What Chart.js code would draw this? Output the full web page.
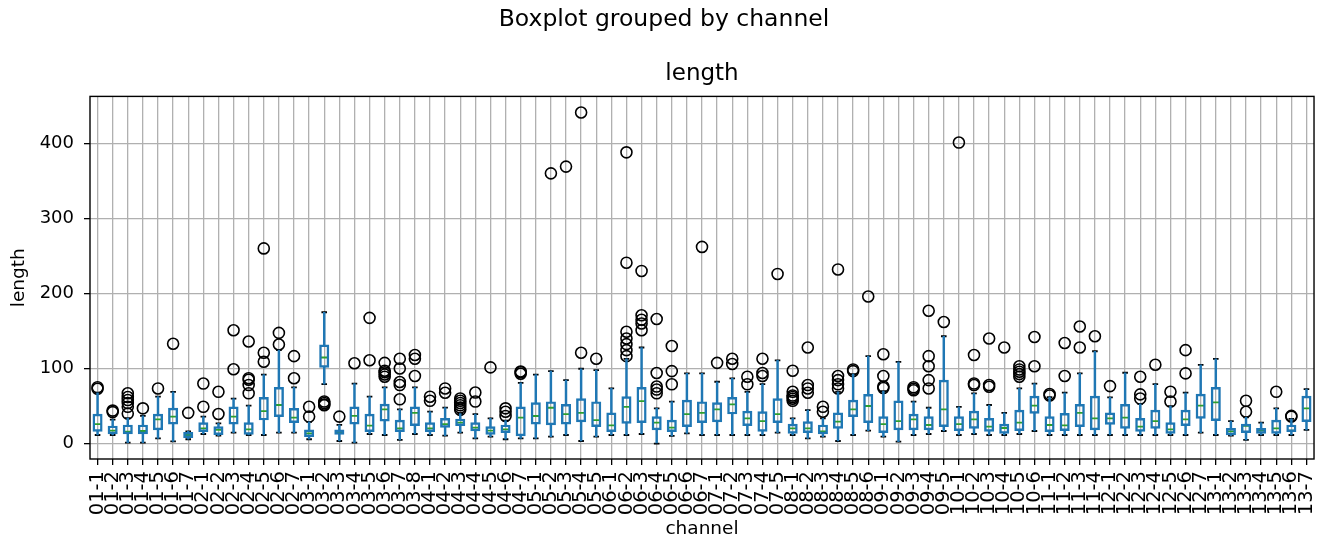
<!DOCTYPE html>
<html>
<head>
<meta charset="utf-8">
<script src="https://cdn.jsdelivr.net/npm/chart.js@4.4.0/dist/chart.umd.min.js"></script>
<style>
    html, body { margin: 0; padding: 0; background: #fff; }
</style>
</head>
<body>
<canvas id="grafico" width="1336" height="542"></canvas>
<script>
const canales = [
    "01-1", "01-2", "01-3", "01-4", "01-5", "01-6", "01-7",
    "02-1", "02-2", "02-3", "02-4", "02-5", "02-6", "02-7",
    "03-1", "03-2", "03-3", "03-4", "03-5", "03-6", "03-7", "03-8",
    "04-1", "04-2", "04-3", "04-4", "04-5", "04-6", "04-7",
    "05-1", "05-2", "05-3", "05-4", "05-5",
    "06-1", "06-2", "06-3", "06-4", "06-5", "06-6", "06-7",
    "07-1", "07-2", "07-3", "07-4", "07-5",
    "08-1", "08-2", "08-3", "08-4", "08-5", "08-6",
    "09-1", "09-2", "09-3", "09-4", "09-5",
    "10-1", "10-2", "10-3", "10-4", "10-5", "10-6",
    "11-1", "11-2", "11-3", "11-4",
    "12-1", "12-2", "12-3", "12-4", "12-5", "12-6", "12-7",
    "13-1", "13-2", "13-3", "13-4", "13-5", "13-6", "13-7",
];

const bigoteInf = [
    11.5, 11.5, 1.3, 1.3, 7, 3, 5.8,
    12.8, 10.6, 14.6, 11.5, 11.5, 14.6, 14.6,
    5.8, 79.3, 3.5, 1.3, 12.8, 11.5, 5, 12.8,
    11.5, 10.6, 14.6, 7, 9.3, 5.8, 7,
    7, 9.3, 11.5, 3.5, 9.3,
    11.5, 11.5, 12.8, 0, 10.2, 13.7, 11.5,
    11.5, 11.5, 11.5, 11.5, 14.6,
    11.5, 7, 9.3, 3.5, 11.5, 17.3,
    9.3, 2.7, 11.5, 12.8, 16.8,
    11.5, 12.8, 11.5, 11.5, 12.8, 16.8,
    11.5, 11.5, 11.5, 11.5,
    11.5, 11.5, 11.5, 11.5, 11.5, 11.5, 14.6,
    11.5, 10.6, 5, 11.5, 11.5, 11.5, 18.2,
];

const q1 = [
    16.4, 12.8, 12.8, 12.8, 18.2, 26, 8,
    16, 12, 26, 12.4, 31.4, 36, 28,
    9.3, 101.5, 12.4, 26, 16, 30, 16, 24,
    16, 21.7, 24, 16.8, 12.4, 14.6, 10.2,
    26, 24.8, 26, 29, 22.6,
    16, 27, 28, 18.2, 16, 22.6, 28,
    29, 39.4, 24, 16.4, 28,
    13.7, 14.6, 12.8, 20.4, 35.9, 28,
    14.6, 18.2, 18.2, 18.2, 22.6,
    17.3, 20.4, 16.4, 13.7, 17.3, 40.3,
    16, 17.3, 22.6, 18.2,
    25.7, 20.4, 16.4, 20.4, 13.7, 24, 33.7,
    30.6, 11.5, 14.6, 13.7, 13.7, 16, 29.2,
];

const mediana = [
    26, 17.3, 16, 16.8, 32.3, 35.9, 11.5,
    20.4, 18.2, 36, 19, 43.4, 51.4, 34.5,
    13.7, 114.7, 15, 37, 24, 45.6, 20.4, 41,
    20.4, 26, 28, 21.3, 17.3, 19, 34.5,
    36.8, 47.8, 39.4, 41, 31.4,
    24.4, 49, 56.7, 28, 21.3, 39.4, 41,
    45.6, 52.3, 33.7, 30, 39.4,
    20.4, 20.4, 16.4, 29.2, 45.6, 50.1,
    26, 30, 32.3, 24.8, 45.6,
    26, 32.3, 22.6, 20.8, 28, 50.5,
    24.8, 24.4, 41, 33.7,
    33.7, 34.5, 22.6, 30, 19, 32.3, 50.5,
    54.9, 16.4, 23.5, 17.3, 20.4, 17.3, 47,
];

const q3 = [
    39.4, 23.5, 24.8, 24.8, 39.4, 47.4, 15,
    28, 22.6, 49, 28, 61.6, 75, 47,
    18.2, 131.6, 18.2, 49, 39.4, 52.7, 31.4, 49,
    28, 33.7, 32.8, 28, 22.6, 24.8, 49,
    54.5, 55.8, 52.3, 60, 55.8,
    41, 62.5, 75, 36, 31.4, 58, 55.8,
    54.5, 61.6, 43.4, 42.5, 60,
    26, 29.2, 24.8, 41, 58, 65.6,
    36, 57, 39.4, 36, 84.6,
    36, 43.4, 33.7, 26, 44.7, 63.4,
    36, 40.3, 52.3, 63.4,
    41, 52.3, 33.7, 44.7, 28, 44.7, 66,
    75, 20.4, 26, 20.4, 31.4, 24.8, 63.4,
];

const bigoteSup = [
    67.8, 32, 34, 37, 62.5, 69, 16.4,
    36, 27, 60, 50.5, 92, 124.5, 75,
    29, 175, 25, 80, 62.5, 75, 45.6, 75,
    42.5, 48, 40, 39.4, 33.7, 30.6, 81,
    92, 96.6, 84.6, 99.7, 98,
    73.5, 113, 128, 47, 56, 93.5, 93.5,
    82.4, 86.8, 69, 79.3, 111,
    33.7, 44.7, 33.7, 69, 92.6, 116.5,
    70, 109, 56, 47.8, 143,
    49, 67, 51.4, 41, 73.5, 80,
    62, 67.8, 93.5, 123,
    61.6, 94.4, 53, 79.3, 50, 67.8, 105,
    113, 30, 35, 27.9, 47, 33, 72.6,
];

// valores atípicos de cada canal, en el mismo orden
const atipicos = [
    [73, 75], [42, 44], [40, 49, 54, 58, 62, 67], [47], [73.5], [133], [41],
    [49, 80], [39.4, 69], [99, 151], [67, 78, 85, 87, 136], [109, 121, 260], [132, 147.5], [87, 116.5],
    [36, 49], [51, 52, 54, 56], [36], [107], [111, 167.5], [89, 92, 95, 97, 107.6], [59, 78, 82, 100, 113], [90, 113, 118],
    [57, 62.5], [67.8, 73.5], [45, 48, 51, 54, 57, 60], [56, 68], [101.5], [36.8, 42.5, 47], [93, 95, 96],
    [], [360], [369], [121, 441], [113],
    [], [116.5, 124.5, 132.5, 140, 149, 241, 388], [151, 160, 165, 171, 230], [67, 72, 76, 94, 166], [79, 96.6, 130], [], [262],
    [107.6], [106, 113], [79, 89], [90, 94, 113], [226],
    [57, 59.8, 62, 64, 69, 97], [67.8, 73.5, 78, 128], [42.5, 49], [73.5, 79, 84.6, 90, 232], [96.6, 98.8], [196],
    [74, 76, 90, 119], [], [71, 73, 75], [73.5, 84.6, 103, 116.5, 177], [162],
    [401], [78, 80, 118], [75.8, 78, 140], [128], [89, 92.6, 95.7, 98.8, 103], [103, 142],
    [64, 66], [90, 134], [128, 156], [143],
    [76.6], [], [60, 65.6, 89], [105], [56, 69], [93.5, 124.5], [],
    [], [], [42.5, 57], [], [69], [35.9, 37], [],
];

const marcasY = [0, 100, 200, 300, 400];

const AZUL = "#1f77b4";
const VERDE = "#2ca02c";
const GRIS = "#b0b0b0";

Chart.defaults.font.family = "'DejaVu Sans', sans-serif";
Chart.defaults.color = "#000";

// marco negro alrededor del área del gráfico
const marco = {
    id: "marco",
    afterDatasetsDraw(chart) {
        const { ctx, chartArea: a } = chart;
        ctx.save();
        ctx.strokeStyle = "#000";
        ctx.lineWidth = 1.4;
        ctx.strokeRect(a.left, a.top, a.right - a.left, a.bottom - a.top);
        ctx.restore();
    },
};

const puntosAtipicos = canales.flatMap((c, i) => atipicos[i].map((v) => ({ x: c, y: v })));

const ctx = document.getElementById("grafico").getContext("2d");
new Chart(ctx, {
    type: "bar",
    data: {
        labels: canales,
        datasets: [
            {
                label: "caja",
                data: canales.map((c, i) => [q1[i], q3[i]]),
                backgroundColor: "rgba(0,0,0,0)",
                borderColor: AZUL,
                borderWidth: 1.8,
                borderSkipped: false,
                barThickness: 9.4,
                grouped: false,
            },
            {
                label: "bigote inferior",
                data: canales.map((c, i) => [bigoteInf[i], q1[i]]),
                backgroundColor: AZUL,
                borderWidth: 0,
                barThickness: 1.8,
                grouped: false,
            },
            {
                label: "bigote superior",
                data: canales.map((c, i) => [q3[i], bigoteSup[i]]),
                backgroundColor: AZUL,
                borderWidth: 0,
                barThickness: 1.8,
                grouped: false,
            },
            {
                type: "line",
                label: "tope inferior",
                data: bigoteInf,
                showLine: false,
                pointStyle: "line",
                pointRadius: 2.8,
                pointBorderColor: "#000",
                pointBorderWidth: 1.8,
            },
            {
                type: "line",
                label: "tope superior",
                data: bigoteSup,
                showLine: false,
                pointStyle: "line",
                pointRadius: 2.8,
                pointBorderColor: "#000",
                pointBorderWidth: 1.8,
            },
            {
                type: "line",
                label: "mediana",
                data: mediana,
                showLine: false,
                pointStyle: "line",
                pointRadius: 3.9,
                pointBorderColor: VERDE,
                pointBorderWidth: 1.8,
            },
            {
                type: "line",
                label: "atípicos",
                data: puntosAtipicos,
                showLine: false,
                pointStyle: "circle",
                pointRadius: 5.5,
                pointBorderColor: "#000",
                pointBackgroundColor: "rgba(0,0,0,0)",
                pointBorderWidth: 1.6,
            },
        ],
    },
    options: {
        responsive: false,
        animation: false,
        events: [],
        layout: { padding: { left: 0, right: 8, top: 0, bottom: 0 } },
        plugins: {
            legend: { display: false },
            tooltip: { enabled: false },
            title: {
                display: true,
                text: "Boxplot grouped by channel",
                color: "#000",
                font: { size: 23.5, weight: "normal" },
                padding: { top: 6, bottom: 5 },
            },
        },
        scales: {
            x: {
                type: "category",
                offset: true,
                grid: { offset: false, color: GRIS, lineWidth: 1.3, tickColor: "#000", tickLength: 6 },
                border: { display: false },
                ticks: { autoSkip: false, minRotation: 90, maxRotation: 90, padding: 6, font: { size: 19.5 } },
                title: { display: true, text: "channel", font: { size: 18.5 }, padding: { top: 0, bottom: 2 } },
                afterFit: (escala) => { escala.height = 83; },
            },
            x2: {
                type: "linear",
                position: "top",
                grid: { display: false, drawTicks: false },
                border: { display: false },
                ticks: { display: false },
                title: { display: true, text: "length", font: { size: 23 }, padding: { top: 21, bottom: 0 } },
                afterFit: (escala) => { escala.height = 57.2; },
            },
            y: {
                min: -20.5,
                max: 462.5,
                afterBuildTicks: (escala) => { escala.ticks = marcasY.map((v) => ({ value: v })); },
                grid: { color: GRIS, lineWidth: 1.3, tickColor: "#000", tickLength: 6 },
                border: { display: false },
                ticks: { padding: 10, font: { size: 18 } },
                title: { display: true, text: "length", font: { size: 18.5 }, padding: { top: 8, bottom: 0 } },
                afterFit: (escala) => { escala.width = 90; },
            },
        },
    },
    plugins: [marco],
});
</script>
</body>
</html>
